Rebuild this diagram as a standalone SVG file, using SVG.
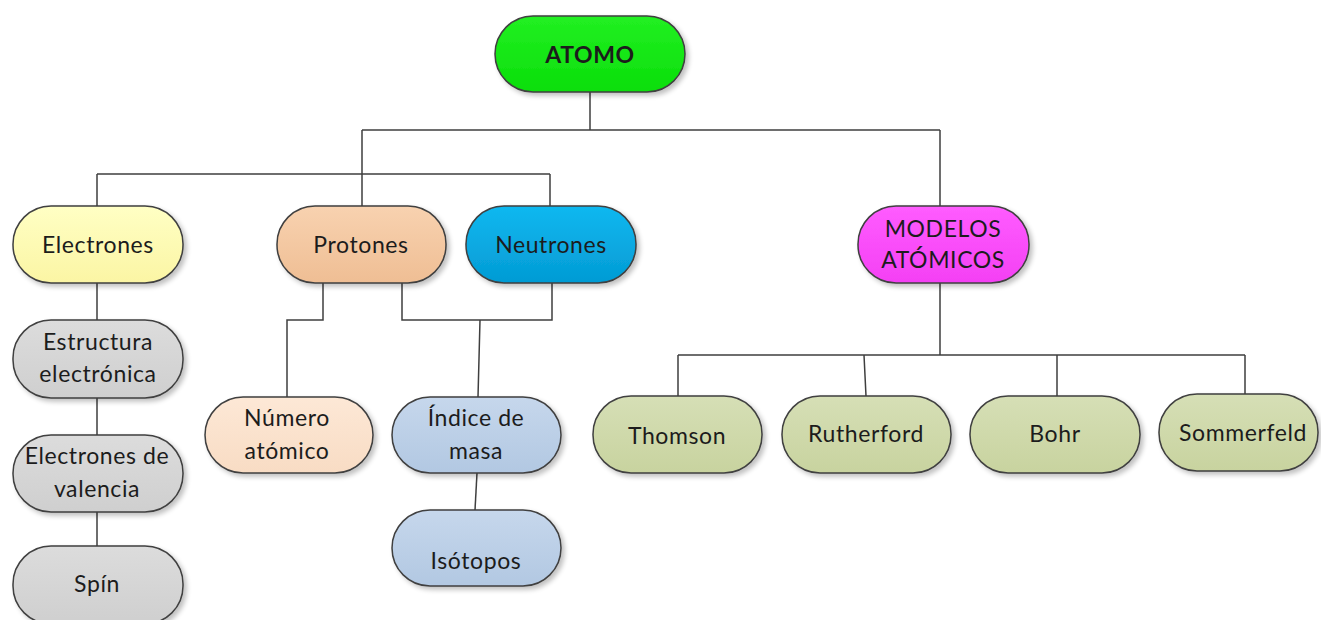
<svg xmlns="http://www.w3.org/2000/svg" width="1321" height="620" viewBox="0 0 1321 620">
  <defs>
    <filter id="shadow" x="-10%" y="-10%" width="130%" height="140%">
      <feGaussianBlur in="SourceAlpha" stdDeviation="2.5"/>
      <feOffset dx="3" dy="3" result="b"/>
      <feComponentTransfer><feFuncA type="linear" slope="0.25"/></feComponentTransfer>
      <feMerge><feMergeNode/><feMergeNode in="SourceGraphic"/></feMerge>
    </filter>
    <linearGradient id="gGreen" x1="0" y1="0" x2="0" y2="1"><stop offset="0" stop-color="#22f022"/><stop offset="1" stop-color="#0ade0a"/></linearGradient>
    <linearGradient id="gYellow" x1="0" y1="0" x2="0" y2="1"><stop offset="0" stop-color="#ffffc4"/><stop offset="1" stop-color="#fbf5a4"/></linearGradient>
    <linearGradient id="gPeach" x1="0" y1="0" x2="0" y2="1"><stop offset="0" stop-color="#f8d2b0"/><stop offset="1" stop-color="#efbe94"/></linearGradient>
    <linearGradient id="gBlue" x1="0" y1="0" x2="0" y2="1"><stop offset="0" stop-color="#10b8f0"/><stop offset="1" stop-color="#039bd4"/></linearGradient>
    <linearGradient id="gMagenta" x1="0" y1="0" x2="0" y2="1"><stop offset="0" stop-color="#ff5cff"/><stop offset="1" stop-color="#f440f4"/></linearGradient>
    <linearGradient id="gGray" x1="0" y1="0" x2="0" y2="1"><stop offset="0" stop-color="#dcdcdc"/><stop offset="1" stop-color="#cfcfcf"/></linearGradient>
    <linearGradient id="gLightPeach" x1="0" y1="0" x2="0" y2="1"><stop offset="0" stop-color="#fde8d6"/><stop offset="1" stop-color="#f8dcc4"/></linearGradient>
    <linearGradient id="gLightBlue" x1="0" y1="0" x2="0" y2="1"><stop offset="0" stop-color="#c6d7ec"/><stop offset="1" stop-color="#b2c8e2"/></linearGradient>
    <linearGradient id="gOlive" x1="0" y1="0" x2="0" y2="1"><stop offset="0" stop-color="#d6dfb6"/><stop offset="1" stop-color="#c8d39f"/></linearGradient>
  </defs>
  <style>
    .node rect { stroke: #3f3f3f; stroke-width: 1.5; filter: url(#shadow); }
    .node text { font-family: Lato, "Open Sans", "Liberation Sans", sans-serif; font-size: 23px; letter-spacing: 0.6px; fill: #1c1c1c; text-anchor: middle; dominant-baseline: central; }
    .node text.bold { font-weight: bold; }
    .conn path { fill: none; stroke: #3f3f3f; stroke-width: 1.5; }
  </style>
  <rect width="1321" height="620" fill="#ffffff"/>

  <!-- connectors -->
  <g class="conn">
    <path d="M590 92 V130 M362 130 H940 M362 130 V206 M940 130 V206"/>
    <path d="M97 174 H550 M97 174 V206 M550 174 V206"/>
    <path d="M97 283 V320 M97 398 V435 M97 512 V546"/>
    <path d="M323 283 V320 H287 V397"/>
    <path d="M402 283 V320 H552 V283 M480 320 L478 397"/>
    <path d="M477 473 L475 510"/>
    <path d="M940 283 V355 M678 355 H1245 M678 355 V396 M864 355 L866 396 M1057 355 V396 M1245 355 V396"/>
  </g>

  <!-- root -->
  <g id="atomo" class="node">
    <rect x="495" y="16" width="190" height="76" rx="38" fill="url(#gGreen)"/>
    <text class="bold" x="590" y="54">ATOMO</text>
  </g>

  <!-- second level -->
  <g id="electrones" class="node">
    <rect x="13" y="206" width="170" height="77" rx="38" fill="url(#gYellow)"/>
    <text x="98" y="244">Electrones</text>
  </g>
  <g id="protones" class="node">
    <rect x="277" y="206" width="169" height="77" rx="38" fill="url(#gPeach)"/>
    <text x="361" y="244">Protones</text>
  </g>
  <g id="neutrones" class="node">
    <rect x="466" y="206" width="170" height="77" rx="38" fill="url(#gBlue)"/>
    <text x="551" y="244">Neutrones</text>
  </g>
  <g id="modelos" class="node">
    <rect x="858" y="206" width="171" height="77" rx="38" fill="url(#gMagenta)"/>
    <text x="943" y="228">MODELOS</text>
    <text x="943" y="259">ATÓMICOS</text>
  </g>

  <!-- electrons branch -->
  <g id="estructura" class="node">
    <rect x="13" y="320" width="170" height="78" rx="38" fill="url(#gGray)"/>
    <text x="98" y="341">Estructura</text>
    <text x="98" y="373">electrónica</text>
  </g>
  <g id="valencia" class="node">
    <rect x="13" y="435" width="170" height="77" rx="38" fill="url(#gGray)"/>
    <text x="97" y="455">Electrones de</text>
    <text x="97" y="488">valencia</text>
  </g>
  <g id="spin" class="node">
    <rect x="13" y="546" width="170" height="78" rx="38" fill="url(#gGray)"/>
    <text x="97" y="583">Spín</text>
  </g>

  <!-- nucleus branch -->
  <g id="numero" class="node">
    <rect x="205" y="397" width="168" height="76" rx="38" fill="url(#gLightPeach)"/>
    <text x="287" y="417">Número</text>
    <text x="287" y="450">atómico</text>
  </g>
  <g id="indice" class="node">
    <rect x="392" y="397" width="169" height="76" rx="38" fill="url(#gLightBlue)"/>
    <text x="476" y="417">Índice de</text>
    <text x="476" y="450">masa</text>
  </g>
  <g id="isotopos" class="node">
    <rect x="392" y="510" width="169" height="76" rx="38" fill="url(#gLightBlue)"/>
    <text x="476" y="560">Isótopos</text>
  </g>

  <!-- atomic models -->
  <g id="thomson" class="node">
    <rect x="593" y="396" width="169" height="77" rx="38" fill="url(#gOlive)"/>
    <text x="677" y="435">Thomson</text>
  </g>
  <g id="rutherford" class="node">
    <rect x="782" y="396" width="169" height="77" rx="38" fill="url(#gOlive)"/>
    <text x="866" y="433">Rutherford</text>
  </g>
  <g id="bohr" class="node">
    <rect x="970" y="396" width="170" height="77" rx="38" fill="url(#gOlive)"/>
    <text x="1055" y="433">Bohr</text>
  </g>
  <g id="sommerfeld" class="node">
    <rect x="1159" y="394" width="159" height="77" rx="38" fill="url(#gOlive)"/>
    <text x="1243" y="432">Sommerfeld</text>
  </g>
</svg>
